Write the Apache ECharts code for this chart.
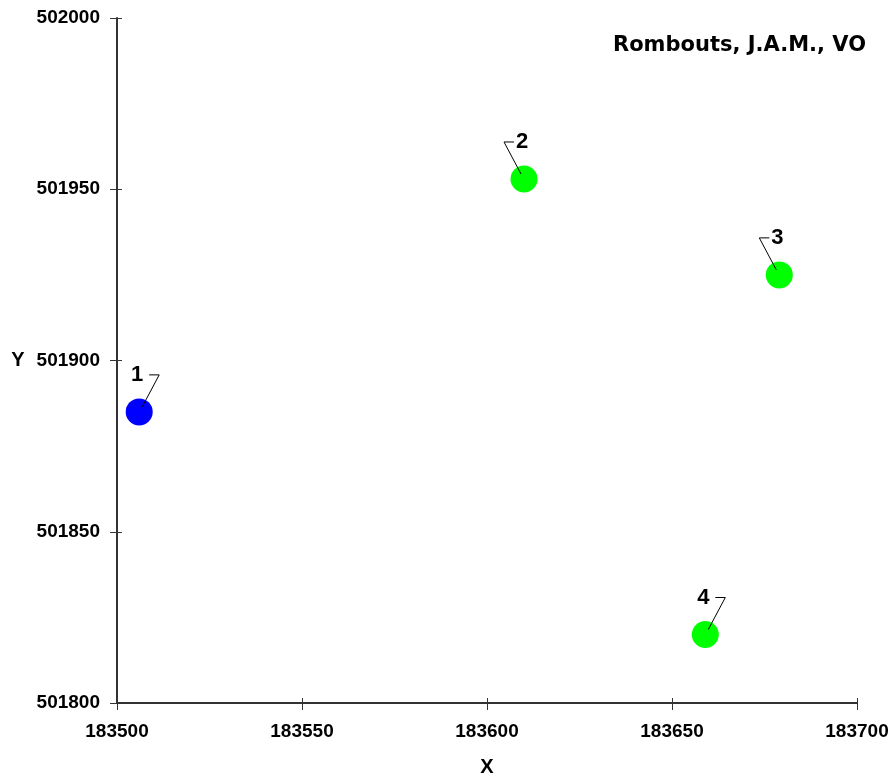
<!DOCTYPE html>
<html>
<head>
<meta charset="utf-8">
<script src="https://cdn.jsdelivr.net/npm/echarts@6/dist/echarts.min.js"></script>
<style>html,body{margin:0;padding:0;background:#fff;}#chart{width:890px;height:778px;}</style>
</head>
<body>
<div id="chart"></div>
<script>
// ---- data ----
const pointLabels = ['1', '2', '3', '4'];
const xValues = [183506, 183610, 183679, 183659];
const yValues = [501885, 501953, 501925, 501820];
const xTicks = [183500, 183550, 183600, 183650, 183700];
const yTicks = [501800, 501850, 501900, 501950, 502000];
const chartTitle = 'Rombouts, J.A.M., VO';
const xName = 'X';
const yName = 'Y';

const points = xValues.map((x, i) => [x, yValues[i], pointLabels[i]]);

const chart = echarts.init(document.getElementById('chart'), null, {renderer: 'canvas'});
const labelFont = 'Liberation Sans, Arial, sans-serif';
const leaderDir = {'1': 1, '2': -1, '3': -1, '4': 1};

const axisCommon = {
  type: 'value',
  splitLine: {show: false}
};

const option = {
  backgroundColor: '#ffffff',
  animation: false,
  title: {
    text: chartTitle,
    left: 613, top: 35, padding: 0,
    textStyle: {fontFamily: 'DejaVu Sans', fontWeight: 'bold', fontSize: 21, color: '#000'}
  },
  grid: {left: 117, right: 33, top: 18, bottom: 75, containLabel: false, outerBoundsMode: 'none'},
  xAxis: [
    Object.assign({}, axisCommon, {
      min: xTicks[0], max: xTicks[xTicks.length - 1], interval: xTicks[1] - xTicks[0],
      name: xName, nameLocation: 'middle', nameGap: 54,
      nameTextStyle: {fontFamily: labelFont, fontWeight: 'bold', fontSize: 20, color: '#000'},
      axisLine: {show: true, lineStyle: {color: '#333', width: 2}},
      axisTick: {show: true, inside: false, length: 7, lineStyle: {color: '#333', width: 1}},
      axisLabel: {margin: 19, fontFamily: labelFont, fontWeight: 'bold', fontSize: 19, color: '#000',
        formatter: v => String(v)}
    }),
    Object.assign({}, axisCommon, {
      position: 'bottom', offset: 0,
      min: xTicks[0], max: xTicks[xTicks.length - 1], interval: xTicks[1] - xTicks[0],
      axisLine: {show: false},
      axisTick: {show: true, inside: true, length: 5, lineStyle: {color: '#333', width: 1}},
      axisLabel: {show: false}
    })
  ],
  yAxis: [
    Object.assign({}, axisCommon, {
      min: yTicks[0], max: yTicks[yTicks.length - 1], interval: yTicks[1] - yTicks[0],
      name: yName, nameLocation: 'middle', nameGap: 99, nameRotate: 0,
      nameTextStyle: {fontFamily: labelFont, fontWeight: 'bold', fontSize: 20, color: '#000', align: 'center', verticalAlign: 'middle'},
      axisLine: {show: true, lineStyle: {color: '#333', width: 2}},
      axisTick: {show: true, inside: false, length: 7, lineStyle: {color: '#333', width: 1}},
      axisLabel: {margin: 17, fontFamily: labelFont, fontWeight: 'bold', fontSize: 19, color: '#000',
        formatter: v => String(v)}
    }),
    Object.assign({}, axisCommon, {
      position: 'left', offset: 0,
      min: yTicks[0], max: yTicks[yTicks.length - 1], interval: yTicks[1] - yTicks[0],
      axisLine: {show: false},
      axisTick: {show: true, inside: true, length: 5, lineStyle: {color: '#333', width: 1}},
      axisLabel: {show: false}
    })
  ],
  series: [
    {
      type: 'scatter',
      xAxisIndex: 0, yAxisIndex: 0,
      data: points,
      symbol: 'circle',
      symbolSize: 27,
      itemStyle: {
        color: p => p.dataIndex === 0 ? '#0000ff' : '#00ff00',
        opacity: 1
      },
      z: 2
    },
    {
      type: 'custom',
      xAxisIndex: 0, yAxisIndex: 0,
      data: points,
      z: 5,
      clip: false,
      renderItem: function (params, api) {
        const c = api.coord([api.value(0), api.value(1)]);
        const name = pointLabels[params.dataIndex];
        const d = leaderDir[name];
        return {
          type: 'group',
          children: [
            {
              type: 'polyline',
              shape: {points: [[c[0] + d * 3, c[1] - 5], [c[0] + d * 20, c[1] - 37], [c[0] + d * 10, c[1] - 37]]},
              style: {stroke: '#000', lineWidth: 1, fill: null}
            },
            {
              type: 'text',
              x: c[0] - 2, y: c[1] - 37,
              style: {text: name, fontFamily: labelFont, fontWeight: 'bold', fontSize: 22, fill: '#000',
                align: 'center', verticalAlign: 'middle'}
            }
          ]
        };
      }
    }
  ]
};
chart.setOption(option);
</script>
</body>
</html>
